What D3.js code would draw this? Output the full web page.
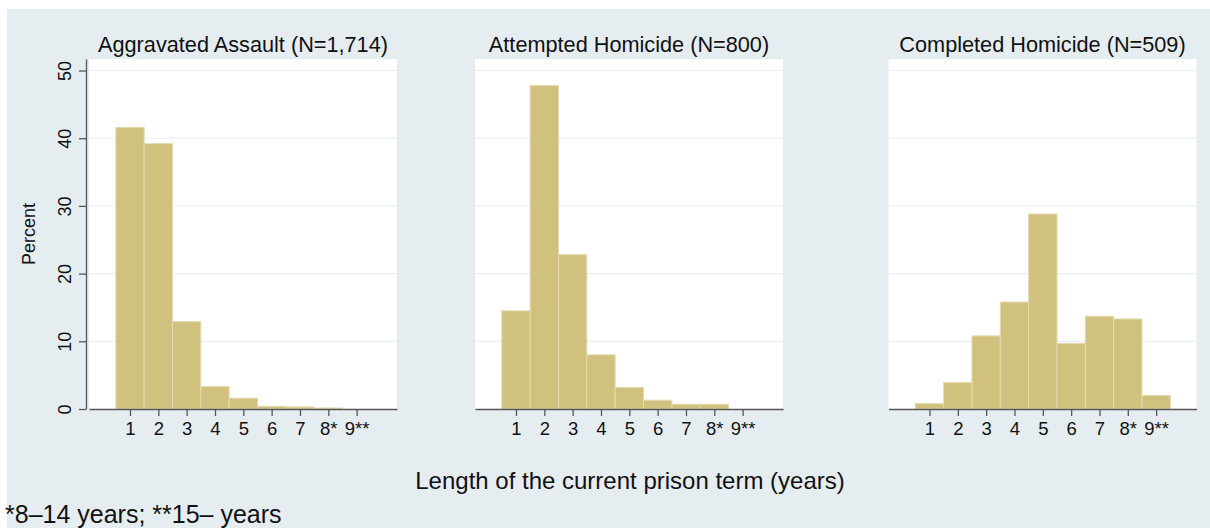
<!DOCTYPE html>
<html>
<head>
<meta charset="utf-8">
<script src="https://cdn.jsdelivr.net/npm/d3@7"></script>
<style>
  html, body { margin: 0; padding: 0; background: #ffffff; }
  svg { display: block; }
  text { font-family: "Liberation Sans", Arial, Helvetica, sans-serif; fill: #111; }
</style>
</head>
<body>
<svg id="chart" width="1210" height="528"></svg>
<script>
// Prison-term categories (years); 8* = 8–14 years, 9** = 15+ years
const categories = [1, 2, 3, 4, 5, 6, 7, 8, 9];
const categoryLabels = ["1", "2", "3", "4", "5", "6", "7", "8*", "9**"];

// Percent of offenders in each term-length category
const aggravatedAssault = [41.6, 39.2, 12.9, 3.3, 1.6, 0.4, 0.3, 0.15, 0];
const attemptedHomicide = [14.5, 47.8, 22.8, 8.0, 3.2, 1.3, 0.7, 0.7, 0];
const completedHomicide = [0.8, 3.9, 10.8, 15.8, 28.8, 9.7, 13.7, 13.3, 2.0];

const panelTitles = [
  "Aggravated Assault (N=1,714)",
  "Attempted Homicide (N=800)",
  "Completed Homicide (N=509)"
];
const yTicks = [0, 10, 20, 30, 40, 50];

const panels = [
  { title: panelTitles[0], values: aggravatedAssault, left: 89, showY: true },
  { title: panelTitles[1], values: attemptedHomicide, left: 475, showY: false },
  { title: panelTitles[2], values: completedHomicide, left: 888.5, showY: false }
];

const svg = d3.select("#chart");
const W = 1210, H = 528;

// Outer graph region
svg.append("rect").attr("x", 7).attr("y", 9).attr("width", W - 7).attr("height", H - 9)
  .attr("fill", "#e6edf1");

const plotTop = 59, plotBottom = 409, plotWidth = 308;
const y = d3.scaleLinear().domain([0, 51.7]).range([plotBottom, plotTop]);

const barFill = "#d1c17e", barEdge = "#e4dab0";

panels.forEach(p => {
  const x = d3.scaleLinear().domain([-0.447, 10.425]).range([p.left, p.left + plotWidth]);
  const g = svg.append("g");

  // plot region
  g.append("rect").attr("x", p.left).attr("y", plotTop)
    .attr("width", plotWidth).attr("height", plotBottom - plotTop).attr("fill", "#ffffff");

  // horizontal grid
  g.selectAll("line.grid").data(yTicks.slice(1)).join("line")
    .attr("x1", p.left).attr("x2", p.left + plotWidth)
    .attr("y1", d => y(d)).attr("y2", d => y(d))
    .attr("stroke", "#ebf0f3").attr("stroke-width", 1.2);

  // bars
  g.selectAll("rect.bar").data(categories.map((c, i) => ({ c, v: p.values[i] })))
    .join("rect")
    .attr("x", d => x(d.c - 0.5))
    .attr("width", d => x(d.c + 0.5) - x(d.c - 0.5))
    .attr("y", d => y(d.v))
    .attr("height", d => y(0) - y(d.v))
    .attr("fill", barFill)
    .attr("stroke", barEdge).attr("stroke-width", 1);

  // x axis
  const xAxis = d3.axisBottom(x).tickValues(categories)
    .tickFormat((d, i) => categoryLabels[i]).tickSize(7).tickSizeOuter(0).tickPadding(6);
  const xa = g.append("g").attr("transform", `translate(0,${plotBottom})`).call(xAxis);
  xa.select(".domain").attr("stroke", "#555").attr("stroke-width", 1.3);
  xa.selectAll(".tick line").attr("stroke", "#555").attr("stroke-width", 1.3);
  xa.selectAll(".tick text").attr("font-size", 18.5).attr("fill", "#111");

  // panel title
  g.append("text").attr("x", p.left + plotWidth / 2).attr("y", 52)
    .attr("text-anchor", "middle").attr("font-size", 21.7).text(p.title);

  if (p.showY) {
    const yAxis = d3.axisLeft(y).tickValues(yTicks).tickSize(7).tickSizeOuter(0).tickPadding(4);
    const ya = g.append("g").attr("transform", `translate(${p.left - 3},0)`).call(yAxis);
    ya.select(".domain").attr("stroke", "#555").attr("stroke-width", 1.3);
    ya.selectAll(".tick line").attr("stroke", "#555").attr("stroke-width", 1.3);
    ya.selectAll(".tick text")
      .attr("font-size", 18).attr("fill", "#111")
      .attr("text-anchor", "middle")
      .attr("x", 0).attr("dy", 0)
      .attr("transform", "translate(-15.5,0) rotate(-90)");

    g.append("text")
      .attr("transform", `translate(35,234) rotate(-90)`)
      .attr("text-anchor", "middle").attr("font-size", 18).text("Percent");
  }
});

// shared x-axis title
svg.append("text").attr("x", 630).attr("y", 489).attr("text-anchor", "middle")
  .attr("font-size", 24).text("Length of the current prison term (years)");

// footnote
svg.append("text").attr("x", 5).attr("y", 523).attr("font-size", 25)
  .text("*8–14 years; **15– years");
</script>
</body>
</html>
